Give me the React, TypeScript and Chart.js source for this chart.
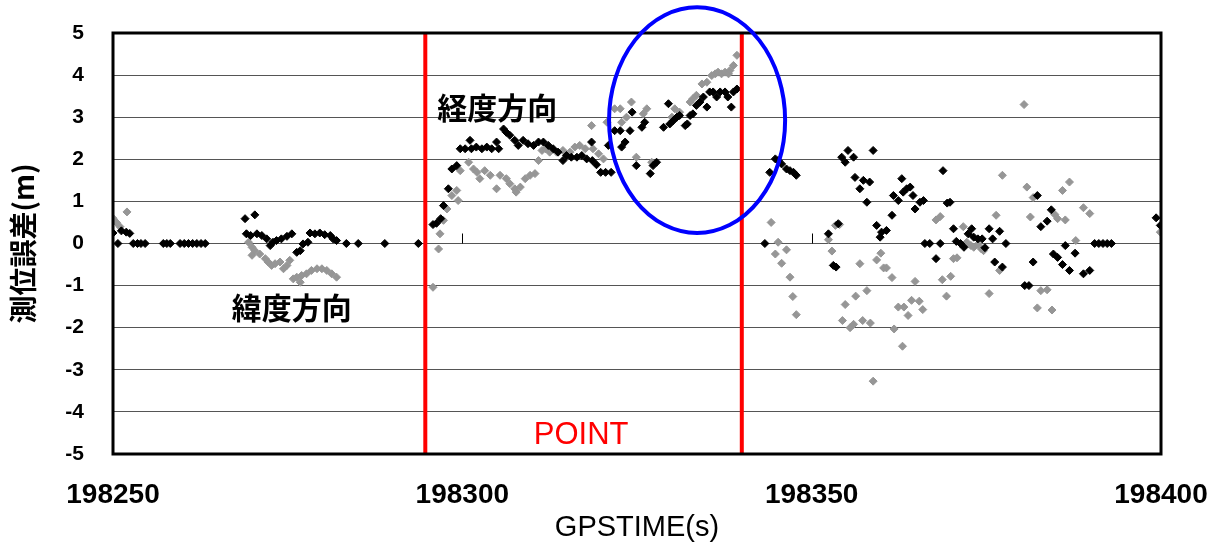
import React, { useEffect, useRef } from 'react';
import { Chart, registerables } from 'chart.js';

Chart.register(...registerables);

// 経度方向 (black)
const longX = [
  198250.0, 198250.7, 198251.2, 198251.9, 198252.4, 198252.9, 198253.5, 198254.0, 198254.6,
  198257.2, 198257.7, 198258.2, 198259.6, 198260.2, 198260.8, 198261.4, 198262.0, 198262.6, 198263.2,
  198268.9, 198270.3, 198269.1, 198269.7, 198270.6, 198271.3, 198272.0, 198272.5, 198272.9, 198273.4,
  198274.1, 198274.9, 198275.6, 198276.3, 198276.8, 198277.2, 198277.9, 198278.2, 198278.9, 198279.6,
  198280.3, 198281.1, 198281.5, 198282.0, 198283.4, 198285.1, 198288.9, 198293.7,
  198295.8, 198296.3, 198296.9, 198297.3, 198298.0, 198298.5, 198299.2, 198299.7, 198300.4, 198301.1,
  198301.3, 198302.0, 198302.8, 198303.5, 198304.2, 198304.9, 198305.2, 198305.9, 198306.3, 198306.8,
  198307.5, 198308.0, 198308.7, 198309.4, 198310.2, 198310.9, 198311.6, 198312.3, 198313.0, 198313.7,
  198314.4, 198314.9, 198315.6, 198316.4, 198317.1, 198317.8, 198318.5, 198318.6, 198319.2, 198319.8,
  198320.5, 198321.3, 198320.9, 198321.8, 198322.6, 198322.8, 198323.3, 198324.0, 198324.3, 198324.9,
  198325.7, 198326.1, 198326.9, 198327.3, 198327.8, 198328.8, 198329.5, 198329.7, 198330.2, 198330.7,
  198331.1, 198331.9, 198332.2, 198332.6, 198333.0, 198333.5, 198334.0, 198334.5, 198335.0, 198335.4,
  198335.9, 198336.4, 198336.9, 198337.6, 198338.0, 198338.5, 198338.8, 198339.3,
  198343.3, 198344.0, 198344.8, 198345.2, 198345.7, 198346.4, 198346.9, 198347.4, 198347.8,
  198352.4, 198353.1, 198353.5, 198353.8, 198354.3, 198354.8, 198355.2, 198356.0, 198356.2, 198356.9,
  198357.4, 198357.9, 198358.3, 198358.8, 198359.3, 198359.8, 198360.0, 198360.7, 198361.5, 198361.7,
  198362.4, 198362.9, 198363.1, 198363.6, 198364.1, 198364.5, 198364.8, 198365.5, 198366.0, 198366.2,
  198366.9, 198367.8, 198368.4, 198368.8, 198369.4, 198369.8, 198370.3, 198370.7, 198371.3, 198371.8,
  198372.4, 198372.9, 198373.2, 198373.8, 198374.4, 198374.8, 198375.4, 198375.9, 198376.2, 198376.9,
  198377.3, 198377.8, 198380.5, 198381.1, 198381.7, 198382.3, 198382.8, 198383.7, 198384.3, 198384.6,
  198385.2, 198385.9, 198386.3, 198386.9, 198387.7, 198388.9, 198389.8, 198390.5, 198391.1, 198391.7,
  198392.3, 198392.9, 198399.3, 198399.9,
];
const longY = [
  0.25, 0.0, 0.3, 0.27, 0.24, 0, 0, 0, 0,
  0, 0, 0, 0, 0, 0, 0, 0, 0, 0,
  0.59, 0.68, 0.23, 0.19, 0.23, 0.19, 0.11, -0.05, 0.03, 0.07,
  0.11, 0.17, 0.23, -0.21, -0.17, -0.01, 0.03, 0.25, 0.23, 0.25,
  0.21, 0.19, 0.11, 0.07, 0, 0, 0, 0,
  0.45, 0.48, 0.59, 0.9, 1.3, 1.77, 1.85, 2.25, 2.25, 2.45,
  2.25, 2.29, 2.25, 2.29, 2.25, 2.41, 2.25, 2.72, 2.64, 2.57,
  2.45, 2.33, 2.45, 2.37, 2.33, 2.41, 2.41, 2.33, 2.25, 2.17,
  1.97, 2.09, 2.05, 2.05, 2.09, 2.01, 2.41, 1.97, 1.87, 1.69,
  1.69, 1.69, 2.33, 2.68, 2.68, 2.29, 2.41, 2.68, 3.12, 1.85,
  2.76, 2.88, 1.66, 1.85, 1.93, 2.76, 3.32, 2.84, 2.92, 3.0,
  3.04, 2.8, 2.84, 3.04, 3.08, 3.28, 3.36, 3.48, 3.24, 3.6,
  3.6, 3.48, 3.6, 3.6, 3.48, 3.24, 3.6, 3.67,
  0, 1.69, 2.01, 1.97, 1.89, 1.77, 1.73, 1.69, 1.62,
  0.23, -0.52, -0.56, 0.47, 2.05, 1.93, 2.21, 2.05, 1.57, 1.3,
  1.5, 0.98, 1.46, 2.21, 0.43, 0.15, 0.27, 0.31, 0.67, 1.14,
  1.02, 1.54, 1.22, 1.3, 1.34, 1.14, 0.82, 0.98, 1.02, 0,
  0, -0.36, 0, 1.73, 0.96, 0.98, 0.35, 0.05, 0, -0.09,
  0.23, 0.35, 0.15, 0.11, 0.11, -0.1, 0.35, 0.11, -0.44, 0.29,
  -0.56, 0, -1.0, -1.0, -0.44, 1.14, 0.4, 0.53, 0.8, -0.25,
  -0.33, -0.5, -0.05, -0.64, -0.23, -0.72, -0.64, 0, 0, 0,
  0, 0, 0.61, 0.43,
];

// 緯度方向 (gray)
const latX = [
  198250.0, 198250.5, 198251.0, 198252.0,
  198269.1, 198269.4, 198269.9, 198270.3, 198269.9, 198271.0, 198271.8, 198272.2, 198272.7, 198273.2,
  198273.9, 198274.4, 198274.9, 198275.3, 198275.8, 198276.3, 198276.8, 198277.0, 198277.7, 198278.4,
  198279.2, 198279.9, 198280.6, 198281.3, 198282.0,
  198295.8, 198296.6, 198296.8, 198297.3, 198297.8, 198298.5, 198299.2, 198299.4, 198299.7, 198300.9,
  198301.6, 198302.1, 198302.5, 198303.2, 198304.0, 198304.9, 198305.4, 198306.3, 198306.8, 198307.5,
  198307.7, 198308.3, 198309.0, 198309.7, 198310.4, 198310.9, 198311.4, 198311.9, 198312.5, 198313.5,
  198314.4, 198315.4, 198316.1, 198316.8, 198317.6, 198318.5, 198318.7, 198319.5, 198320.2, 198320.7,
  198321.8, 198322.6, 198322.8, 198323.5, 198324.2, 198324.9, 198325.9, 198326.4, 198327.1, 198330.0,
  198330.4, 198331.1, 198332.6, 198333.0, 198333.5, 198334.3, 198335.0, 198335.7, 198336.2, 198336.6,
  198337.1, 198337.6, 198338.1, 198338.3, 198338.8, 198339.3,
  198344.2, 198344.8, 198345.2, 198346.4, 198345.7, 198346.9, 198347.3, 198347.8,
  198352.4, 198352.9, 198353.4, 198354.0, 198354.8, 198354.4, 198355.5, 198356.0, 198356.3, 198356.9,
  198357.3, 198357.9, 198358.4, 198358.8, 198359.3, 198359.9, 198360.3, 198360.7, 198361.5, 198361.8,
  198362.4, 198363.0, 198363.2, 198363.8, 198364.3, 198364.8, 198365.4, 198365.9, 198367.8, 198368.4,
  198368.7, 198369.3, 198369.9, 198370.3, 198370.8, 198371.7, 198372.2, 198372.8, 198373.2, 198373.8,
  198374.3, 198374.6, 198375.4, 198376.4, 198376.9, 198377.3, 198380.4, 198380.8, 198381.3, 198381.7,
  198382.3, 198382.8, 198383.7, 198384.4, 198384.8, 198385.2, 198385.9, 198386.3, 198386.9, 198387.8,
  198388.9, 198389.8, 198399.9,
];
const latY = [
  0.6, 0.5, 0.4, 0.75,
  0.23, 0.03, -0.09, -0.17, -0.28, -0.25, -0.36, -0.44, -0.52, -0.48,
  -0.44, -0.6, -0.52, -0.4, -0.84, -0.8, -0.92, -0.76, -0.72, -0.64,
  -0.6, -0.6, -0.64, -0.72, -0.8,
  -1.04, -0.13, 0.23, 0.55, 0.82, 1.14, 1.26, 1.02, 1.73, 1.93,
  1.77, 1.69, 1.54, 1.73, 1.62, 1.3, 1.62, 1.54, 1.42, 1.3,
  1.22, 1.34, 1.54, 1.62, 1.66, 1.97, 2.21, 2.25, 2.17, 2.17,
  2.21, 2.17, 2.29, 2.33, 2.25, 2.8, 2.25, 2.13, 2.01, 2.88,
  3.2, 3.2, 2.88, 3.0, 3.36, 2.05, 3.08, 3.2, 1.93, 3.0,
  3.2, 3.12, 3.36, 3.44, 3.52, 3.79, 3.83, 3.99, 4.03, 4.07,
  4.03, 4.07, 4.03, 4.11, 4.23, 4.47,
  0.5, -0.25, 0.03, -0.15, -0.47, -0.8, -1.26, -1.69,
  0.09, -0.18, 0.43, 0.45, -1.45, -1.83, -2.0, -1.92, -1.25, -0.48,
  -1.83, -1.12, -1.89, -3.27, -0.39, -0.23, -0.58, -0.58, -0.81, -2.03,
  -1.51, -2.44, -1.51, -1.71, -1.35, -0.9, -1.37, -1.57, 0.56, 0.64,
  -0.86, -1.25, -0.78, -0.36, -0.34, 0.4, 0.03, -0.05, -0.09, -0.02,
  -0.13, -0.17, -1.19, 0.67, -0.64, 1.62, 3.3, 1.34, 0.63, 1.09,
  -1.53, -1.12, -1.1, -1.58, 0.69, 0.59, 1.26, 0.56, 1.46, 0.07,
  0.85, 0.71, 0.27,
];

const xTicks = [198250, 198300, 198350, 198400];
const yTicks = [-5, -4, -3, -2, -1, 0, 1, 2, 3, 4, 5];
const pointLines = [198294.7, 198340.0];
const pointLabel = 'POINT';
const longLabel = '経度方向';
const latLabel = '緯度方向';
// [text, x, y, colour] annotation anchors in data units
const labelPos: [string, number, number, string][] = [
  [longLabel, 198305.0, 3.24, '#000000'],
  [latLabel, 198275.6, -1.53, '#000000'],
  [pointLabel, 198317.0, -4.55, '#ff0000'],
];
// ellipse: center x, center y, radius x, radius y (data units)
const ellipse = [198333.6, 2.93, 12.6, 2.68];

const noPad = (s: any) => {
  s.paddingTop = 0;
  s.paddingBottom = 0;
  s.paddingLeft = 0;
  s.paddingRight = 0;
};

const overlay = {
  id: 'overlay',
  beforeDatasetsDraw(chart: any) {
    const { ctx, scales: { x, y } } = chart;
    ctx.save();
    ctx.strokeStyle = '#000';
    ctx.lineWidth = 1;
    const y0 = y.getPixelForValue(0);
    for (const t of xTicks.slice(1, -1)) {
      const px = Math.round(x.getPixelForValue(t)) + 0.5;
      ctx.beginPath();
      ctx.moveTo(px, y0 - 10);
      ctx.lineTo(px, y0);
      ctx.stroke();
    }
    ctx.restore();
  },
  afterDatasetsDraw(chart: any) {
    const { ctx, chartArea: a, scales: { x, y } } = chart;
    ctx.save();
    ctx.strokeStyle = '#ff0000';
    ctx.lineWidth = 4;
    for (const v of pointLines) {
      const px = x.getPixelForValue(v);
      ctx.beginPath();
      ctx.moveTo(px, a.top);
      ctx.lineTo(px, a.bottom);
      ctx.stroke();
    }
    ctx.strokeStyle = '#000';
    ctx.lineWidth = 3;
    ctx.strokeRect(a.left, a.top, a.right - a.left, a.bottom - a.top);

    const cx = x.getPixelForValue(ellipse[0]);
    const cy = y.getPixelForValue(ellipse[1]);
    const rx = x.getPixelForValue(ellipse[0] + ellipse[2]) - cx;
    const ry = cy - y.getPixelForValue(ellipse[1] + ellipse[3]);
    ctx.strokeStyle = '#0000ff';
    ctx.lineWidth = 4;
    ctx.beginPath();
    ctx.ellipse(cx, cy, rx, ry, 0, 0, Math.PI * 2);
    ctx.stroke();

    ctx.textAlign = 'center';
    ctx.textBaseline = 'middle';
    for (const [txt, lx, ly, col] of labelPos) {
      ctx.fillStyle = col;
      ctx.font = txt === pointLabel
        ? '31px "Liberation Sans", Arial, sans-serif'
        : 'bold 30px "Noto Sans CJK JP", sans-serif';
      ctx.fillText(txt, x.getPixelForValue(lx), y.getPixelForValue(ly));
    }
    ctx.restore();
  },
};

export default function App() {
  const ref = useRef<HTMLCanvasElement>(null);
  useEffect(() => {
    document.body.style.margin = '0';
    const canvas = ref.current!;
    const chart = new Chart(canvas, {
      type: 'scatter',
      data: {
        datasets: [
          {
            label: longLabel,
            data: longX.map((v, i) => ({ x: v, y: longY[i] })),
            backgroundColor: '#000000',
            borderColor: '#000000',
            borderWidth: 1,
            pointStyle: 'rectRot',
            pointRadius: 4,
          },
          {
            label: latLabel,
            data: latX.map((v, i) => ({ x: v, y: latY[i] })),
            backgroundColor: '#969696',
            borderColor: '#969696',
            borderWidth: 1,
            pointStyle: 'rectRot',
            pointRadius: 4,
          },
        ],
      },
      options: {
        responsive: false,
        animation: false,
        layout: { padding: { top: 33, right: 50, left: 0, bottom: 0 } },
        plugins: { legend: { display: false }, tooltip: { enabled: false } },
        scales: {
          x: {
            type: 'linear',
            min: 198250,
            max: 198400,
            afterBuildTicks: (s: any) => { s.ticks = xTicks.map((v) => ({ value: v })); },
            afterFit: (s: any) => { s.height = 88; noPad(s); },
            grid: { display: false, drawTicks: false },
            border: { display: false },
            ticks: {
              padding: 24,
              color: '#000',
              maxRotation: 0,
              callback: (v: any) => String(v),
              font: { family: '"Liberation Sans", Arial, sans-serif', size: 28, weight: 'bold' },
            },
            title: {
              display: true,
              text: 'GPSTIME(s)',
              color: '#000',
              padding: { top: 0, bottom: 0 },
              font: { family: '"Liberation Sans", Arial, sans-serif', size: 29, lineHeight: 1.0 },
            },
          },
          y: {
            type: 'linear',
            min: -5,
            max: 5,
            afterBuildTicks: (s: any) => { s.ticks = yTicks.map((v) => ({ value: v })); },
            afterFit: (s: any) => { s.width = 113; noPad(s); },
            grid: { color: '#555555', lineWidth: 1, drawTicks: false },
            border: { display: false },
            ticks: {
              padding: 29,
              color: '#000',
              callback: (v: any) => String(v),
              font: { family: '"Liberation Sans", Arial, sans-serif', size: 21, weight: 'bold' },
            },
            title: {
              display: true,
              text: '測位誤差(m)',
              color: '#000',
              padding: { top: 7, bottom: 0 },
              font: { family: '"Noto Sans CJK JP", sans-serif', size: 28, weight: 'bold', lineHeight: 1.2 },
            },
          },
        },
      },
      plugins: [overlay],
    });
    return () => chart.destroy();
  }, []);
  return (
    <div style={{ width: 1211, height: 542 }}>
      <canvas ref={ref} width={1211} height={542} style={{ display: 'block' }} />
    </div>
  );
}
